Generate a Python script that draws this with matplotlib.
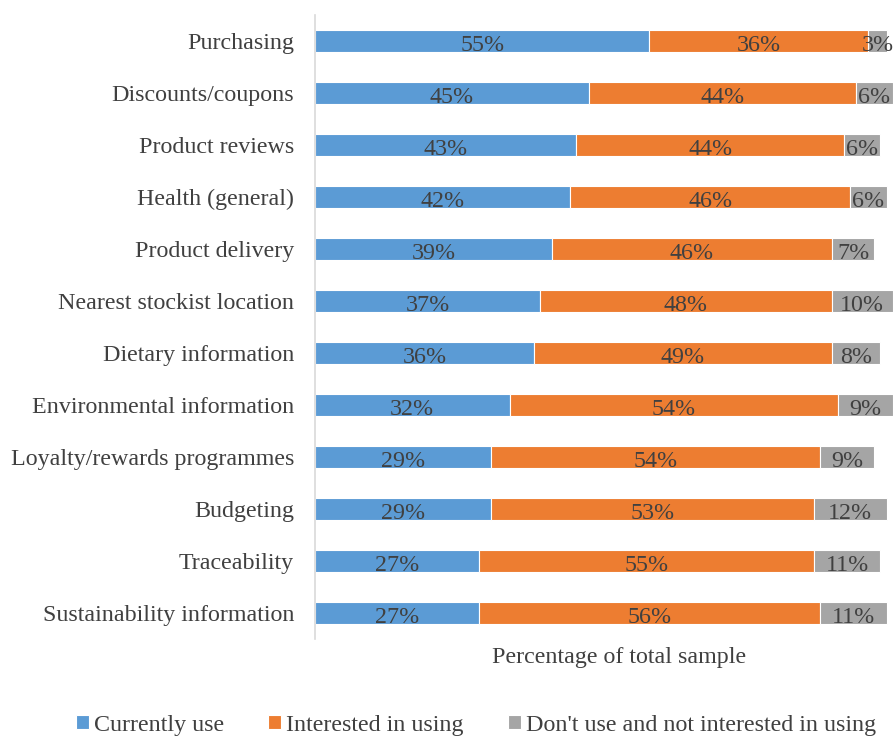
import matplotlib
matplotlib.use("Agg")
import matplotlib.pyplot as plt
import numpy as np

categories = ["Purchasing", "Discounts/coupons", "Product reviews", "Health (general)",
              "Product delivery", "Nearest stockist location", "Dietary information",
              "Environmental information", "Loyalty/rewards programmes", "Budgeting",
              "Traceability", "Sustainability information"]
currently_use = [55, 45, 43, 42, 39, 37, 36, 32, 29, 29, 27, 27]
interested = [36, 44, 44, 46, 46, 48, 49, 54, 54, 53, 55, 56]
not_interested = [3, 6, 6, 6, 7, 10, 8, 9, 9, 12, 11, 11]
series_names = ["Currently use", "Interested in using", "Don't use and not interested in using"]
colors = ["#5B9BD5", "#ED7D31", "#A5A5A5"]

plt.rcParams['font.family'] = ['Liberation Serif', 'DejaVu Serif']
txt = "#404040"
fs = 17.3

fig = plt.figure(figsize=(8.93, 7.36), dpi=100)
W, H = 893, 736
left, right = 315, 893
top, bottom = 15, 639
ax = fig.add_axes([left / W, 1 - bottom / H, (right - left) / W, (bottom - top) / H])

px_per_pct = 6.08
ax.set_xlim(0, (right - left) / px_per_pct)
n = len(categories)
y = np.arange(n)
ax.set_ylim(n - 0.5, -0.5)

bar_h = 0.41
lefts = np.zeros(n)
for vals, col, name in zip([currently_use, interested, not_interested], colors, series_names):
    vals = np.array(vals, dtype=float)
    ax.barh(y, vals, left=lefts, height=bar_h, color=col, edgecolor="white",
            linewidth=0.8, label=name)
    for yi, l, v in zip(y, lefts, vals):
        ax.text(l + v / 2, yi + 0.19, f"{int(v)}%", ha="center", va="baseline",
                fontsize=fs, color=txt, clip_on=False)
    lefts += vals

ax.set_yticks(y)
ax.set_yticklabels(categories, fontsize=fs, color=txt)
ax.tick_params(axis="y", length=0, pad=15)
ax.set_xticks([])
for s in ["top", "right", "bottom"]:
    ax.spines[s].set_visible(False)
ax.spines["left"].set_color("#D9D9D9")
ax.spines["left"].set_linewidth(1.2)

fig.text(619 / W, 1 - 657 / H, "Percentage of total sample", ha="center", va="center",
         fontsize=fs, color=txt)

handles, labels = ax.get_legend_handles_labels()
leg = fig.legend(handles, labels, loc="center", bbox_to_anchor=(476 / W, 1 - 725 / H),
                 ncol=3, frameon=False, fontsize=fs, handlelength=0.55, handleheight=0.55,
                 handletextpad=0.2, columnspacing=1.83, labelcolor=txt)

fig.savefig("out.png", dpi=100)
